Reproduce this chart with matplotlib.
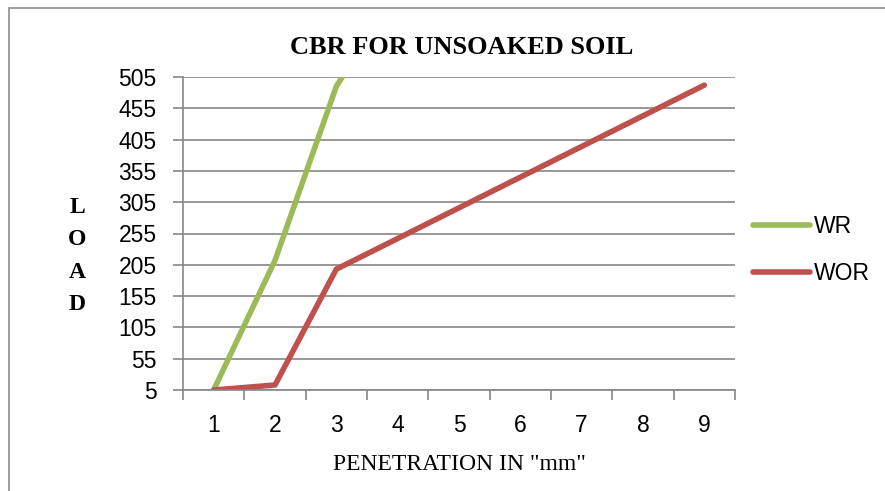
import matplotlib.pyplot as plt
import numpy as np
from matplotlib.patches import Rectangle

plt.rcParams['font.family'] = ['Liberation Sans', 'DejaVu Sans']

# data
penetration = [1, 2, 3, 4, 5, 6, 7, 8, 9]
wr = [5, 212, 490, 645]          # last point runs off the top of the axis
wor = [5, 13, 198, 247, 296, 345, 394, 443, 492]
y_ticks = list(range(5, 506, 50))

grid_col = '#868686'

fig = plt.figure(figsize=(8.85, 4.91), dpi=100)
fig.patches.append(Rectangle((9 / 885, -0.1), 1.2, 1 - 8 / 491 + 0.1,
                             transform=fig.transFigure, fill=False,
                             edgecolor='#8c8c8c', linewidth=1.2))

ax = fig.add_axes([183 / 885, 1 - 390 / 491, (735 - 183) / 885, (390 - 77) / 491])

ax.plot(penetration[:len(wr)], wr, color='#9BBB59', lw=4, label='WR',
        solid_joinstyle='round', solid_capstyle='round')
ax.plot(penetration, wor, color='#C0504D', lw=4, label='WOR',
        solid_joinstyle='round', solid_capstyle='round')

ax.set_xlim(0.5, 9.5)
ax.set_ylim(5, 505)
ax.set_yticks(y_ticks)
ax.set_xticks(penetration)
ax.set_xticks(np.arange(0.5, 9.6, 1), minor=True)
ax.tick_params(axis='x', which='major', length=0, labelsize=16.5, pad=17)
ax.tick_params(axis='x', which='minor', length=7, width=1.2, color=grid_col, direction='out')
ax.tick_params(axis='y', length=7, width=1.2, color=grid_col, labelsize=16.5, pad=12)
ax.grid(axis='y', color=grid_col, lw=1.2)
ax.set_axisbelow(True)
for s in ['top', 'right']:
    ax.spines[s].set_visible(False)
for s in ['left', 'bottom']:
    ax.spines[s].set_color(grid_col)
    ax.spines[s].set_linewidth(1.2)

fig.text(462 / 885, 1 - 47 / 491, 'CBR FOR UNSOAKED SOIL', ha='center', va='center',
         family='Liberation Serif', weight='bold', fontsize=19)
fig.text(77 / 885, 1 - 256 / 491, '\n'.join('LOAD'), ha='center', va='center',
         family='Liberation Serif', weight='bold', fontsize=17, linespacing=1.72)
fig.text(459 / 885, 1 - 465 / 491, 'PENETRATION IN "mm"', ha='center', va='center',
         family='Liberation Serif', fontsize=17)

ax.legend(loc='center left', bbox_to_anchor=(753 / 885, 1 - 250 / 491),
          bbox_transform=fig.transFigure, frameon=False, fontsize=16.5,
          handlelength=2.5, handletextpad=0.15, labelspacing=1.05,
          borderpad=0, borderaxespad=0)

fig.savefig('out.png', dpi=100)
